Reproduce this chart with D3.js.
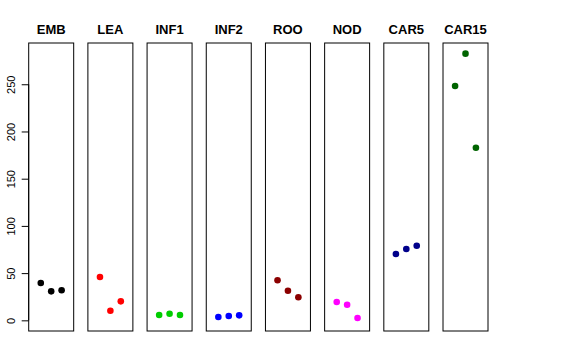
<!DOCTYPE html>
<html>
<head>
<meta charset="utf-8">
<script src="https://cdn.jsdelivr.net/npm/d3@7"></script>
<style>
  body { margin: 0; background: #fff; }
  svg { display: block; font-family: "Liberation Sans", Arial, Helvetica, sans-serif; }
</style>
</head>
<body>
<script>
// one panel per tissue, three replicates each
const tissues = ["EMB", "LEA", "INF1", "INF2", "ROO", "NOD", "CAR5", "CAR15"];
const colors = ["#000000", "#FF0000", "#00CD00", "#0000FF", "#8B0000", "#FF00FF", "#00008B", "#006400"];
const replicates = [1, 2, 3];
const values = [
  [39.5, 30.7, 31.8],
  [45.9, 10.2, 20.1],
  [5.6, 7.0, 5.6],
  [3.5, 4.6, 5.3],
  [42.4, 31.4, 24.4],
  [19.4, 16.5, 2.4],
  [70.2, 75.5, 79.0],
  [248.2, 282.4, 182.8]
];
const yTicks = [0, 50, 100, 150, 200, 250];

const width = 576, height = 360;
const plotTop = 43, plotBottom = 331;

const svg = d3.select("body").append("svg")
    .attr("width", width)
    .attr("height", height);

// panels laid out like par(mfrow = c(1, 8))
const panel = d3.scaleBand()
    .domain(tissues)
    .range([28.7, 488])
    .paddingInner(14.2 / 59.2)
    .paddingOuter(0);

// R style 4% padding around ylim = c(0, max)
const yMax = d3.max(values.flat());
const pad = yMax * 0.04;
const y = d3.scaleLinear()
    .domain([0 - pad, yMax + pad])
    .range([plotBottom, plotTop]);

// x inside a panel: replicate 1..3 on xlim c(0, 4)
const x = d3.scaleLinear()
    .domain([0 - 0.16, 4 + 0.16])
    .range([0, panel.bandwidth()]);

// y axis on the first panel only
const axis = svg.append("g")
    .attr("transform", `translate(${panel(tissues[0])},0)`)
    .call(d3.axisLeft(y).tickValues(yTicks).tickSize(7).tickSizeOuter(0));
axis.select(".domain")
    .attr("d", `M0,${y(yTicks[0])}V${y(yTicks[yTicks.length - 1])}`)
    .attr("stroke", "#000");
axis.selectAll(".tick line").attr("stroke", "#000");
axis.selectAll(".tick text")
    .attr("transform", "rotate(-90)")
    .attr("x", 0)
    .attr("y", -14)
    .attr("dy", 0)
    .attr("text-anchor", "middle")
    .attr("fill", "#000")
    .style("font-size", "11px")
    .style("font-family", "\"Liberation Sans\", Arial, sans-serif");

const g = svg.selectAll(".panel")
    .data(tissues)
    .enter().append("g")
    .attr("class", "panel")
    .attr("transform", d => `translate(${panel(d)},0)`);

g.append("rect")
    .attr("x", 0)
    .attr("y", plotTop)
    .attr("width", panel.bandwidth())
    .attr("height", plotBottom - plotTop)
    .attr("fill", "none")
    .attr("stroke", "#000")
    .attr("stroke-width", 1);

g.append("text")
    .attr("x", panel.bandwidth() / 2)
    .attr("y", 33.5)
    .attr("text-anchor", "middle")
    .style("font-size", "13px")
    .style("font-weight", "bold")
    .text(d => d);

g.selectAll("circle")
    .data((d, i) => values[i].map((v, j) => ({ rep: replicates[j], v: v, color: colors[i] })))
    .enter().append("circle")
    .attr("cx", d => x(d.rep))
    .attr("cy", d => y(d.v))
    .attr("r", 3.3)
    .attr("fill", d => d.color);
</script>
</body>
</html>
